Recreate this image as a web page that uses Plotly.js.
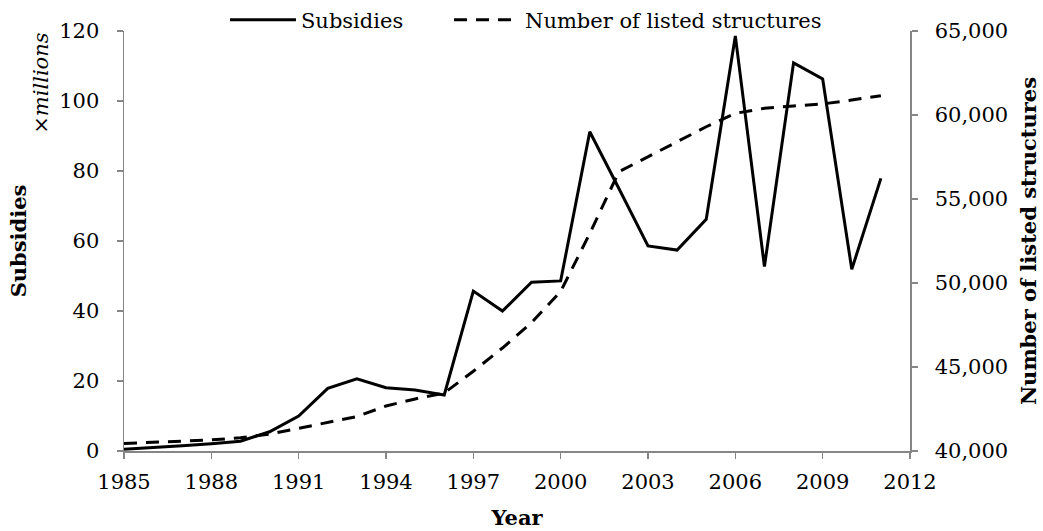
<!DOCTYPE html>
<html>
<head>
<meta charset="utf-8">
<script src="https://cdn.plot.ly/plotly-3.0.1.min.js"></script>
<style>html,body{margin:0;padding:0;background:#fff;}#chart{width:1043px;height:531px;}</style>
</head>
<body>
<div id="chart"></div>
<script>
const years = [1985,1986,1987,1988,1989,1990,1991,1992,1993,1994,1995,1996,1997,1998,1999,2000,2001,2002,2003,2004,2005,2006,2007,2008,2009,2010,2011];
const subsidies = [0.5,0.9,1.5,2.1,2.8,5.5,10,17.9,20.6,18.1,17.4,16,45.7,40,48.2,48.6,91.2,75,58.6,57.4,66.2,118.6,52.7,110.9,106.3,51.9,77.9];
const listedStructures = [40450,40530,40600,40660,40790,41010,41350,41690,42050,42680,43100,43450,44750,46130,47640,49500,52950,56620,57520,58410,59300,60100,60400,60540,60660,60890,61150];
const xTicks = [1985,1988,1991,1994,1997,2000,2003,2006,2009,2012];
const leftTicks = [0,20,40,60,80,100,120];
const rightTicks = [40000,45000,50000,55000,60000,65000];

const FONT = 'DejaVu Serif, Liberation Serif, serif';
const FS = 21;
const AX = '#868686';

const traces = [
  {x: years, y: subsidies, name: 'Subsidies', type: 'scatter', mode: 'lines',
   line: {color: '#000', width: 3}, yaxis: 'y', legend: 'legend'},
  {x: years, y: listedStructures, name: 'Number of listed structures', type: 'scatter', mode: 'lines',
   line: {color: '#000', width: 3, dash: '13px,9px'}, yaxis: 'y2', legend: 'legend2'}
];

const legendCommon = {orientation: 'h', xanchor: 'left', yanchor: 'middle', xref: 'container', yref: 'container',
  font: {family: FONT, size: FS, color: '#000'}, bgcolor: 'rgba(0,0,0,0)', borderwidth: 0, itemwidth: 66};

const layout = {
  width: 1043, height: 531,
  margin: {l: 123.5, r: 133, t: 31, b: 80, autoexpand: false},
  paper_bgcolor: '#fff', plot_bgcolor: '#fff',
  font: {family: FONT, size: FS, color: '#000'},
  showlegend: true,
  legend: Object.assign({}, legendCommon, {x: 0.2157, y: 0.962}),
  legend2: Object.assign({}, legendCommon, {x: 0.4305, y: 0.962}),
  xaxis: {range: [1985, 2012], tickvals: xTicks, ticktext: xTicks.map(String),
          showline: true, linecolor: AX, linewidth: 1.5, ticks: 'outside', ticklen: 6, tickcolor: AX, tickwidth: 1.5,
          showgrid: false, zeroline: false, ticklabelstandoff: 5,
          tickfont: {family: FONT, size: FS, color: '#000'},
          title: {text: '<b>Year</b>', font: {family: FONT, size: FS, color: '#000'}, standoff: 17}},
  yaxis: {range: [0, 120], tickvals: leftTicks, ticktext: leftTicks.map(String),
          showline: true, linecolor: AX, linewidth: 1.5, ticks: 'outside', ticklen: 6, tickcolor: AX, tickwidth: 1.5,
          showgrid: false, zeroline: false, ticklabelstandoff: 13,
          tickfont: {family: FONT, size: FS, color: '#000'},
          title: {text: '<b>Subsidies</b>', font: {family: FONT, size: FS, color: '#000'}, standoff: 27}},
  yaxis2: {range: [40000, 65000], tickvals: rightTicks, ticktext: rightTicks.map(v => v.toLocaleString('en-US')),
          overlaying: 'y', side: 'right',
          showline: true, linecolor: AX, linewidth: 1.5, ticks: 'outside', ticklen: 6, tickcolor: AX, tickwidth: 1.5,
          showgrid: false, zeroline: false, ticklabelstandoff: 13,
          tickfont: {family: FONT, size: FS, color: '#000'},
          title: {text: '<b>Number of listed structures</b>', font: {family: FONT, size: FS, color: '#000'}, standoff: 14}},
  annotations: [
    {text: '<i>×millions</i>', xref: 'paper', yref: 'paper', x: -0.106, y: 0.876, textangle: -90,
     showarrow: false, font: {family: FONT, size: FS, color: '#000'}, xanchor: 'center', yanchor: 'middle'}
  ]
};

Plotly.newPlot('chart', traces, layout, {displayModeBar: false, staticPlot: true});
</script>
</body>
</html>
